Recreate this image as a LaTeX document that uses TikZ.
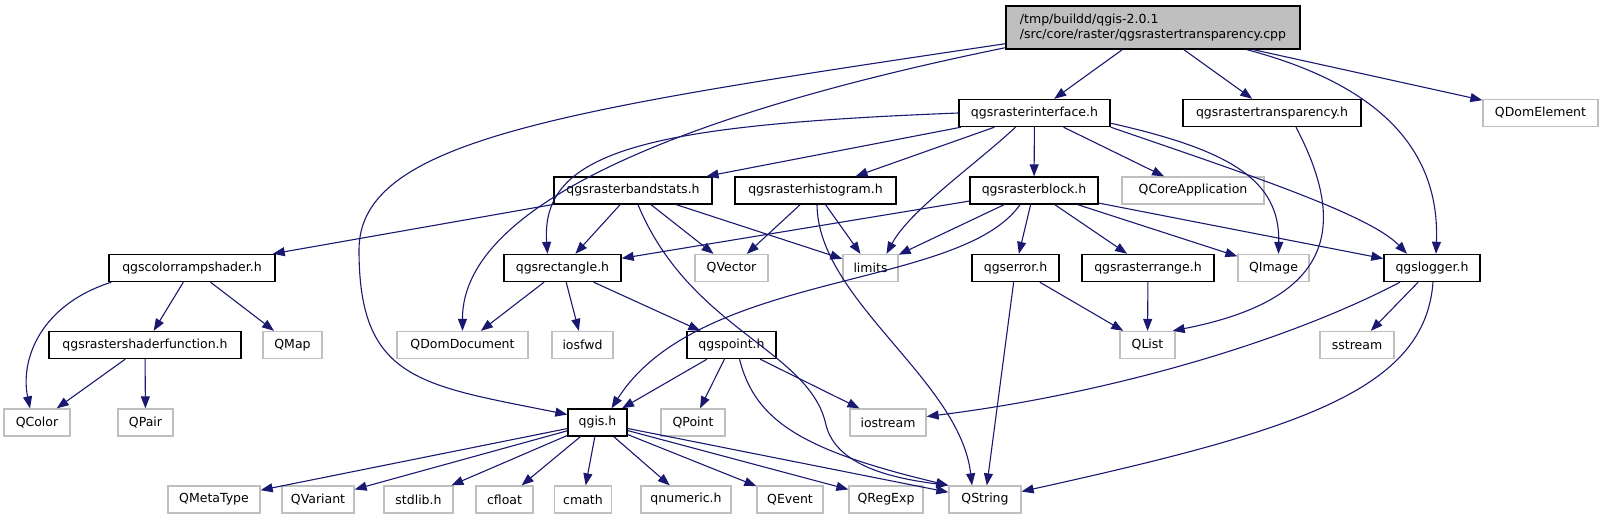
\documentclass[tikz,border=0pt]{standalone}
\usepackage{fontspec}
\setmainfont{DejaVu Sans}
\usetikzlibrary{arrows.meta}
\definecolor{incedge}{RGB}{25,25,112}
\definecolor{incgrey}{RGB}{191,191,191}
\definecolor{srcfill}{RGB}{191,191,191}

\begin{document}
\begin{tikzpicture}[
    x=1pt, y=-1pt,
    every node/.style={font=\fontsize{12.5}{15}\selectfont, inner sep=2pt},
    hdr/.style={rectangle, draw=black, line width=1.4pt, fill=white,
                minimum height=27pt, align=center},
    sys/.style={rectangle, draw=incgrey, line width=1.3pt, fill=white,
                minimum height=27pt, align=center},
    srcbox/.style={rectangle, draw=black, line width=1.4pt, fill=srcfill,
                minimum height=43pt, align=left},
    arr/.style={-{Triangle[length=12pt,width=9pt]}, line width=1.1pt, incedge},
  ]
  \useasboundingbox (0,0) rectangle (1604,520);

  % Izvorna datoteka
  \node[srcbox, minimum width=294pt] (root) at (1153,27.5)
    {/tmp/buildd/qgis-2.0.1\\/src/core/raster/qgsrastertransparency.cpp};

  % Razina 1
  \node[hdr, minimum width=151pt] (rasterif) at (1034.5,113) {qgsrasterinterface.h};
  \node[hdr, minimum width=178pt] (rastertr) at (1272,113) {qgsrastertransparency.h};
  \node[sys, minimum width=115pt] (domelem) at (1540.5,113) {QDomElement};

  % Razina 2
  \node[hdr, minimum width=158pt] (bandstats) at (633,190.5) {qgsrasterbandstats.h};
  \node[hdr, minimum width=161pt] (histogram) at (815.5,190.5) {qgsrasterhistogram.h};
  \node[hdr, minimum width=128pt] (rblock) at (1034,190.5) {qgsrasterblock.h};
  \node[sys, minimum width=142pt] (coreapp) at (1193,190.5) {QCoreApplication};

  % Razina 3
  \node[hdr, minimum width=166pt] (colorramp) at (192,268) {qgscolorrampshader.h};
  \node[hdr, minimum width=117pt] (rect) at (562.5,268) {qgsrectangle.h};
  \node[sys, minimum width=73pt] (qvector) at (731.5,268) {QVector};
  \node[sys, minimum width=55pt] (limits) at (870.5,268) {limits};
  \node[hdr, minimum width=87pt] (qgserror) at (1015.5,268) {qgserror.h};
  \node[hdr, minimum width=132pt] (rrange) at (1148,268) {qgsrasterrange.h};
  \node[sys, minimum width=71pt] (qimage) at (1273.5,268) {QImage};
  \node[hdr, minimum width=96pt] (logger) at (1432,268) {qgslogger.h};

  % Razina 4
  \node[hdr, minimum width=192pt] (shaderfn) at (145,345) {qgsrastershaderfunction.h};
  \node[sys, minimum width=59pt] (qmap) at (292.5,345) {QMap};
  \node[sys, minimum width=131pt] (domdoc) at (462.5,345) {QDomDocument};
  \node[sys, minimum width=61pt] (iosfwd) at (582.5,345) {iosfwd};
  \node[hdr, minimum width=89pt] (qgspoint) at (731.5,345) {qgspoint.h};
  \node[sys, minimum width=55pt] (qlist) at (1147.5,345) {QList};
  \node[sys, minimum width=74pt] (sstream) at (1357,345) {sstream};

  % Razina 5
  \node[sys, minimum width=66pt] (qcolor) at (37,422.5) {QColor};
  \node[sys, minimum width=55pt] (qpair) at (145.5,422.5) {QPair};
  \node[hdr, minimum width=59pt] (qgis) at (597.5,422.5) {qgis.h};
  \node[sys, minimum width=64pt] (qpoint) at (693,422.5) {QPoint};
  \node[sys, minimum width=76pt] (iostream) at (888,422.5) {iostream};

  % Razina 6
  \node[sys, minimum width=92pt] (metatype) at (214,499.5) {QMetaType};
  \node[sys, minimum width=72pt] (variant) at (318,499.5) {QVariant};
  \node[sys, minimum width=69pt] (stdlib) at (418.5,499.5) {stdlib.h};
  \node[sys, minimum width=57pt] (cfloat) at (504.5,499.5) {cfloat};
  \node[sys, minimum width=57pt] (cmath) at (583,499.5) {cmath};
  \node[sys, minimum width=90pt] (qnumeric) at (686,499.5) {qnumeric.h};
  \node[sys, minimum width=66pt] (qevent) at (790,499.5) {QEvent};
  \node[sys, minimum width=74pt] (regexp) at (886,499.5) {QRegExp};
  \node[sys, minimum width=72pt] (qstring) at (985,499.5) {QString};

  % Strelice iz izvorne datoteke
  \draw[arr] (root) -- (rasterif);
  \draw[arr] (root) -- (rastertr);
  \draw[arr] (root) -- (domelem);
  \draw[arr] ([xshift=94pt]root.south) .. controls (1380,85) and (1440,150)
    .. ([xshift=4pt]logger.north);
  \draw[arr] ([yshift=2pt]root.south west) .. controls (700,110) and (462,200)
    .. (domdoc.north);
  \draw[arr] ([yshift=6pt]root.south west) .. controls (560,110) and (359,140)
    .. (359,250) .. controls (359,380) and (420,385) .. ([yshift=8pt]qgis.west);

  % qgsrasterinterface.h
  \draw[arr] (rasterif) -- (bandstats);
  \draw[arr] (rasterif) -- (histogram);
  \draw[arr] (rasterif) -- (rblock);
  \draw[arr] (rasterif) -- (coreapp);
  \draw[arr] (rasterif.west) .. controls (650,125) and (540,150)
    .. ([xshift=-15pt]rect.north);
  \draw[arr] ([xshift=-19pt]rasterif.south) .. controls (975,165) and (910,210)
    .. ([xshift=16pt]limits.north);
  \draw[arr] ([yshift=4pt]rasterif.south east) .. controls (1230,150) and (1280,180)
    .. ([xshift=5pt]qimage.north);
  \draw[arr] (rasterif.south east) .. controls (1250,175) and (1370,215)
    .. ([xshift=-25pt]logger.north);

  % qgsrastertransparency.h
  \draw[arr] ([xshift=24pt]rastertr.south) .. controls (1350,230) and (1330,300)
    .. ([xshift=-3pt]qlist.north east);

  % qgsrasterbandstats.h
  \draw[arr] (bandstats) -- (colorramp);
  \draw[arr] (bandstats) -- (rect);
  \draw[arr] (bandstats) -- (qvector);
  \draw[arr] (bandstats) -- (limits);
  \draw[arr] ([xshift=5pt]bandstats.south) .. controls (690,330) and (810,350)
    .. (826,425) .. controls (836,465) and (890,478) .. (qstring.north west);

  % qgsrasterhistogram.h
  \draw[arr] (histogram) -- (qvector);
  \draw[arr] (histogram) -- (limits);
  \draw[arr] ([xshift=1.5pt]histogram.south) .. controls (818,300) and (960,380)
    .. ([xshift=-13pt]qstring.north);

  % qgsrasterblock.h
  \draw[arr] (rblock) -- (rect);
  \draw[arr] (rblock) -- (limits);
  \draw[arr] ([xshift=-14pt]rblock.south) .. controls (960,290) and (700,270)
    .. ([xshift=14pt]qgis.north);
  \draw[arr] (rblock) -- (qgserror);
  \draw[arr] (rblock) -- (rrange);
  \draw[arr] (rblock) -- (qimage);
  \draw[arr] (rblock) -- (logger);

  % qgscolorrampshader.h
  \draw[arr] ([xshift=3pt]colorramp.south west) .. controls (40,305) and (20,360)
    .. ([xshift=-7pt]qcolor.north);
  \draw[arr] (colorramp) -- (shaderfn);
  \draw[arr] (colorramp) -- (qmap);
  \draw[arr] (shaderfn) -- (qcolor);
  \draw[arr] (shaderfn) -- (qpair);

  % qgsrectangle.h
  \draw[arr] (rect) -- (domdoc);
  \draw[arr] (rect) -- (iosfwd);
  \draw[arr] (rect) -- (qgspoint);

  % qgserror.h, qgsrasterrange.h
  \draw[arr] (qgserror) -- (qlist);
  \draw[arr] (qgserror) -- (qstring);
  \draw[arr] (rrange) -- (qlist);

  % qgslogger.h
  \draw[arr] (logger) -- (sstream);
  \draw[arr] ([xshift=-32pt]logger.south) .. controls (1280,345) and (1100,395)
    .. ([yshift=6pt]iostream.east);
  \draw[arr] ([xshift=1pt]logger.south) .. controls (1425,390) and (1300,430)
    .. ([yshift=8pt]qstring.east);

  % qgspoint.h
  \draw[arr] (qgspoint) -- (qgis);
  \draw[arr] (qgspoint) -- (qpoint);
  \draw[arr] (qgspoint) -- (iostream);
  \draw[arr] ([xshift=8pt]qgspoint.south) .. controls (755,420) and (800,450)
    .. (qstring.north west);

  % qgis.h
  \foreach \dst in {metatype,variant,stdlib,cfloat,cmath,qnumeric,qevent,regexp,qstring}
    \draw[arr] (qgis) -- (\dst);
\end{tikzpicture}
\end{document}
